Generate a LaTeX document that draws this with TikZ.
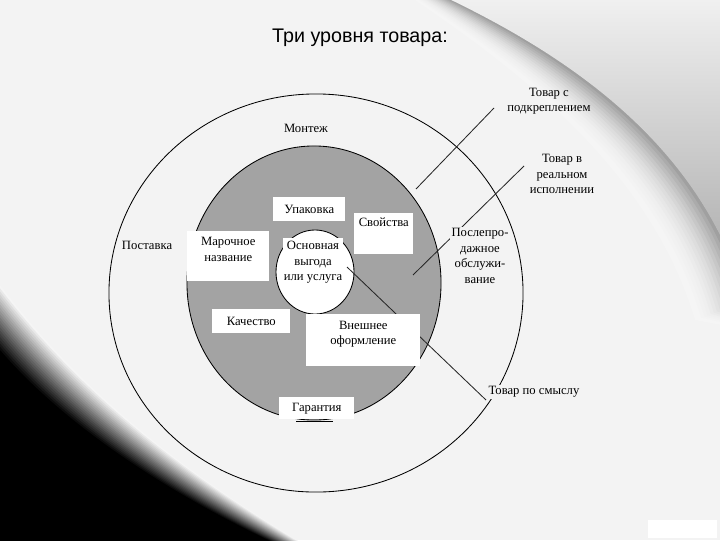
\documentclass[tikz,border=0pt]{standalone}
\usepackage{fontspec}
\setmainfont{Liberation Serif}
\newfontfamily\titlefont{Liberation Sans}
\usetikzlibrary{positioning,calc,shapes.geometric}

\definecolor{paper}{RGB}{243,243,243}
\definecolor{disk}{RGB}{163,163,163}

\begin{document}
\begin{tikzpicture}[x=0.025cm, y=-0.025cm,
    every node/.style={font=\fontsize{9}{11}\selectfont, inner sep=0pt, align=center},
    box/.style={fill=white, anchor=north west},
    tag/.style={fill=paper, inner sep=1pt},
    ring/.style={ellipse, draw=black, line width=0.6pt},
    pointer/.style={draw=black!85, line width=0.6pt}
    ]
    \useasboundingbox (0,0) rectangle (720,540);
    \clip (0,0) rectangle (720,540);

    %Background
    \fill[paper] (0,0) rectangle (720,540);
    \coordinate (i0) at (400,-10); \coordinate (i1) at (520,70);
    \coordinate (i2) at (650,170); \coordinate (i3) at (695,320);
    \coordinate (e0) at (430,-10); \coordinate (e1) at (560,50);
    \coordinate (e2) at (700,140); \coordinate (e3) at (745,300);
    \foreach \i in {0,...,16}{
        \pgfmathsetmacro\t{\i/16}
        \pgfmathsetmacro\k{4+38*\t*\t}
        \fill[black!\k] ($(i0)!\t!(e0)$) .. controls ($(i1)!\t!(e1)$) and ($(i2)!\t!(e2)$) .. ($(i3)!\t!(e3)$)
            -- (800,340) -- (800,-30) -- (380,-30) -- cycle;
    }
    \shade[top color=black!4, bottom color=black!35]
        (e0) .. controls (e1) and (e2) .. (e3) -- (800,300) -- (800,-20) -- (430,-20) -- cycle;
    \coordinate (a0) at (0,285); \coordinate (a1) at (80,390);
    \coordinate (a2) at (180,470); \coordinate (a3) at (305,545);
    \coordinate (b0) at (0,350); \coordinate (b1) at (60,420);
    \coordinate (b2) at (160,490); \coordinate (b3) at (285,548);
    \foreach \i in {0,...,20}{
        \pgfmathsetmacro\t{\i/20}
        \pgfmathsetmacro\k{4+96*\t}
        \fill[black!\k] ($(a0)!\t!(b0)$) .. controls ($(a1)!\t!(b1)$) and ($(a2)!\t!(b2)$) .. ($(a3)!\t!(b3)$)
            -- (-20,570) -- (-20,270) -- cycle;
    }
    \fill[white] (648,520) rectangle (717,538);

    %Title
    \node[font=\titlefont\fontsize{14}{16}\selectfont] (title) at (360,38) {Три уровня товара:};

    %Rings
    \node[ring, minimum width=10.35cm, minimum height=9.95cm] (outer) at (316,293) {};
    \node[ring, fill=disk, minimum width=6.35cm, minimum height=6.85cm] (middle) at (314,283) {};
    \node[ring, fill=white, minimum width=1.95cm, minimum height=2.1cm] (inner) at (315,272) {};
    \node[box, anchor=north, minimum width=1.5cm, text height=30.2pt, text depth=3.2pt]
        (benefit) at (313,238) {Основная\\выгода\\или услуга};

    %Lines
    \coordinate (t1) at (416,189); \coordinate (h1) at (494,108);
    \coordinate (t2) at (413,275); \coordinate (h2) at (524,166);
    \coordinate (t3) at (347,267); \coordinate (h3) at (486,400);
    \draw[pointer] (t1) -- (h1);
    \draw[pointer] (t2) -- (h2);
    \draw[pointer] (t3) -- (h3);

    %Boxes
    \node[box, minimum width=1.8cm, minimum height=0.6cm] (pack) at (273,197) {Упаковка};
    \node[box, minimum width=1.475cm, text height=9.6pt, text depth=19.6pt] (props) at (354,213) {Свойства};
    \node[box, minimum width=2.05cm, text height=21.3pt, text depth=14.2pt] (brand) at (187,231) {Марочное\\название};
    \node[box, minimum width=1.95cm, minimum height=0.6cm] (quality) at (212,309) {Качество};
    \node[box, minimum width=2.85cm, text height=21.7pt, text depth=15.3pt] (design) at (306,314) {Внешнее\\оформление};
    \node[box, minimum width=1.875cm, minimum height=0.55cm] (warranty) at (279,397) {Гарантия};
    \draw[line width=0.6pt] (296,421) -- (333,421);

    %Labels
    \node (install) at (306,128) {Монтеж};
    \node (delivery) at (147,245) {Поставка};
    \node[tag] (aftersale) at (480,256) {Послепро-\\дажное\\обслужи-\\вание};
    \node (augmented) at (549,101) {Товар с\\подкреплением};
    \node (actual) at (562,174) {Товар в\\реальном\\исполнении};
    \node[tag] (meaning) at (534,392) {Товар по смыслу};
\end{tikzpicture}
\end{document}
